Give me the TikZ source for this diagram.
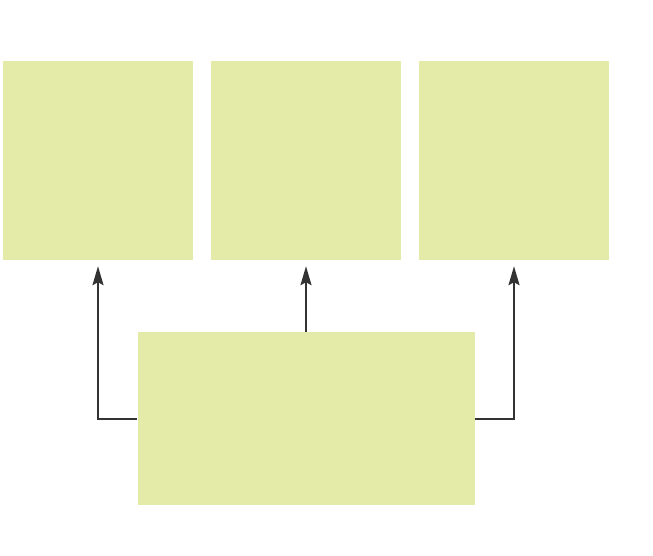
\documentclass[tikz,border=0pt]{standalone}
\usetikzlibrary{arrows.meta}
\definecolor{boxfill}{HTML}{E4EAA8}
\definecolor{linkgray}{HTML}{333333}
\begin{document}
\begin{tikzpicture}[x=1pt,y=-1pt,
    block/.style={fill=boxfill, draw=none, inner sep=0pt, minimum width=190pt, minimum height=199pt},
    link/.style={draw=linkgray, line width=2pt, -{Stealth[length=19pt,width=11pt,inset=3pt]}}]
            \begin{scope}
                \useasboundingbox (0, 0) rectangle (653, 556);

                \node [block] (left) at (98, 160.5) {};
                \node [block] (middle) at (306, 160.5) {};
                \node [block] (right) at (514, 160.5) {};
                \node [block, minimum width=337pt, minimum height=173pt] (base) at (306, 418.5) {};

                \draw [link] (base.west) -| ([yshift=-6pt]left.south);
                \draw [link] (base.north) -- ([yshift=-6pt]middle.south);
                \draw [link] (base.east) -| ([yshift=-6pt]right.south);

            \end{scope}
        \end{tikzpicture}
\end{document}
